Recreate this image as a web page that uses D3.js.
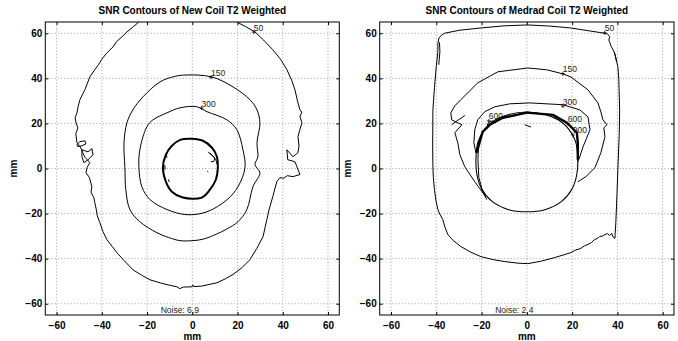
<!DOCTYPE html>
<html>
<head>
<meta charset="utf-8">
<script src="https://cdn.jsdelivr.net/npm/d3@7"></script>
<style>
  body { margin: 0; background: #fff; }
  svg { display: block; font-family: "Liberation Sans", Arial, Helvetica, sans-serif; }
</style>
</head>
<body>
<div id="chart"></div>
<script>
// axis setup (mm)
const tickValues = [-60, -40, -20, 0, 20, 40, 60];
const axisDomain = [-65, 65];

// ---- New coil (left) ----
const newTitle = 'SNR Contours of New Coil T2 Weighted';
const newNoise = 'Noise: 6.9';
const new50 = [[-23.6,65],[-26,63],[-28.9,60.6],[-31,58.5],[-33.5,56.3],[-35,54],[-37.8,51.3],[-40,48.5],[-41.5,46],[-43,44],
  [-45.3,40.7],[-46.5,37.5],[-47.5,35],[-48.5,33],[-49.7,30.5],[-50.5,27.5],[-51,24.7],[-51.8,22.5],[-51.4,20.3],[-50.6,18],
  [-51.5,15.5],[-51.2,13],[-51,11.4],[-49.5,9.5],[-48.4,7],[-47.5,5],[-46.5,4],[-45.3,2.6],[-46.5,0.5],[-47,-1.9],[-45.5,-4],
  [-44.4,-8.1],[-44.8,-10.5],[-43.5,-13],[-43.1,-15.2],[-42.5,-18],[-42,-21],[-40.9,-24],[-39.5,-28],[-37.8,-31.5],[-35.5,-34.5],
  [-33.4,-37.3],[-30,-41],[-26.3,-44.9],[-22.5,-47.3],[-18.7,-49.4],[-14,-50.8],[-10,-51.8],[-6.8,-52.5],[-5.5,-53.3],[-4,-52.6],
  [-0.2,-52.5],[0.2,-51.6],[0.5,-52.4],[4,-52.2],[10.9,-50.7],[14.5,-49],[18,-47],[22,-44],[25.5,-40.4],[28.5,-35.5],[31.3,-30.2],
  [32.2,-26],[33,-22.6],[34,-18],[35.6,-12.5],[36.5,-9],[37.4,-5.8],[38.7,-4.1],[40.5,-4.3],[42,-3.2],[44.5,-3.6],[47.6,-2.7],
  [45.4,3],[42.2,3.9],[41.8,8.3],[44.5,5.2],[46.7,7],[47.2,10],[46.7,14.1],[47.5,17],[48.5,20.3],[47.6,23],[48.4,25],[47.6,26],
  [46.5,30],[45.4,34.9],[44,39],[41.8,43.9],[39,48.5],[35.6,52.7],[31.5,57],[27.7,60.6],[23.5,63],[19.7,65]];
const new50Blobs = [
  [[-51,10.6],[-49.7,11.9],[-47.5,12.3],[-47,11],[-48.8,10.1],[-50.6,9.7],[-51,10.6]],
  [[-48.8,8.3],[-46.1,7.4],[-44.4,8.8],[-43.9,6.1],[-46.1,3.9],[-47.9,2.6],[-48.8,5.2],[-48.8,8.3]]
];
const new150 = [[-2.4,41.5],[8.7,40.6],[18,36.2],[25.5,30.5],[28.6,26],[29.9,20.3],[28.6,11.4],[29,5.2],[27.7,1.7],[29.9,-1.9],
  [26.8,-8.1],[24.1,-18.3],[20.2,-23.6],[15,-27],[10.9,-29],[5,-31.3],[0.3,-32],[-5.5,-32],[-10.5,-30.6],[-15.6,-28.5],
  [-23.2,-23.6],[-27.6,-18.2],[-29.4,-9.4],[-29.8,0.4],[-30.2,11.4],[-28.9,20.3],[-26.3,26],[-21.8,31.8],[-14.3,38.4],[-8,40.8]];
const new300 = [[2,27.4],[6.5,25.2],[15.3,21.6],[19.7,17.2],[22.4,8.3],[23.3,0.4],[20.2,-8.1],[15.3,-13.9],[6.5,-19.2],
  [-2.4,-20.5],[-11.2,-18.2],[-18.7,-13.8],[-22.3,-8.1],[-23.6,0.4],[-23.2,8.3],[-20.1,18.5],[-17.4,21.6],[-11.2,24.7],[-5.5,26.9]];
const newInner = [[-0.2,13.2],[4.7,12.3],[8.7,9.2],[10.9,5.2],[11.3,0.4],[10.4,-5],[7.8,-9.4],[4.2,-12.9],[-4.2,-12.9],
  [-9,-10.3],[-11.7,-5.8],[-13,0.4],[-11.7,6.1],[-9,10.1],[-5.1,12.8]];
const newBits = [
  [[7,7.3],[9.2,5.4],[10.4,3.9],[11,1.7]],
  [[7.8,6.9],[10,4.7],[9.5,3.1],[8.2,3]],
  [[-11.5,6.3],[-11.2,4.8]], [[-12.2,1.5],[-12,-0.5]], [[-10.6,-4.8],[-10.2,-6]],
  [[6.6,-1.2],[7.1,-1.6]]
];
const newLabels = [
  { text: '50', x: 27.2, y: 60.5 },
  { text: '150', x: 8.3, y: 40.5 },
  { text: '300', x: 4.1, y: 26.8 }
];

// ---- Medrad coil (right) ----
const medTitle = 'SNR Contours of Medrad Coil T2 Weighted';
const medNoise = 'Noise: 2.4';
const med50 = [[-36.4,60],[-30,61.3],[-20,62.4],[-10,63.3],[0.4,63.7],[10,63.2],[19,62.4],[28,61],[34.4,60],[35.5,59.8],[36.6,58.5],
  [36.2,57],[37.3,54.1],[38,52.8],[38.8,51.2],[39.3,49.1],[40.2,45.2],[40.6,40],[41,26],[40.8,15],[40.2,-0.5],[39.8,-12],[39.3,-24],
  [39,-29],[38.9,-31],[38,-30.3],[37.5,-28.8],[36.6,-29.7],[35.5,-28.9],[34.5,-29.3],[33.4,-30],[32.2,-30.1],[31.4,-30.9],[29.8,-31.6],
  [28.6,-32.8],[27,-33.7],[25.5,-34.3],[23.5,-35.6],[21.5,-36.2],[19.5,-37.3],[16,-38.4],[12.4,-39.5],[6,-41.2],[0.4,-42.2],[-4,-42],
  [-9.7,-41.3],[-15,-40.4],[-20.3,-39.1],[-25,-37],[-29.2,-34.6],[-32.5,-32],[-34.9,-29.3],[-36.2,-26],[-37.1,-22.7],[-38.5,-20.2],
  [-39.3,-18.2],[-40.2,-14],[-40.8,-9.4],[-41.3,-4],[-41.5,0.8],[-41.6,10],[-41.5,26],[-40.8,36],[-40,45.2],[-39.3,52],[-39.3,55.6],
  [-38.8,58],[-37.5,59.3],[-36.4,60]];
const med50Bits = [
  [[-38.6,56],[-38.4,52],[-38.7,48.5],[-38.9,46]],
  [[38.6,51.5],[39.2,49.5],[39.6,47.5]]
];
const med150 = [[-18.1,-12.6],[-23,-5.9],[-27.4,0.8],[-29.6,6.1],[-30.5,11.4],[-31.8,15.9],[-28.7,19.4],[-33.2,21.6],[-33.6,24.7],
  [-31.8,27.8],[-29.2,30.5],[-25.2,34.5],[-21.7,38],[-12.8,42.9],[0.4,44.6],[8.8,43.8],[15.9,42],[19.5,40.6],[27,34.9],[31.4,29.1],
  [32.7,25.1],[33.6,21.6],[35.4,19.4],[34,18.1],[34.5,14.1],[32.7,7],[30.1,0.4],[26.1,-3.6],[22.5,-5.9]];
const med150Bits = [
  [[-33.2,19.4],[-30.5,21.4],[-27.4,23.5]]
];
const med300 = [[-22.5,7],[-23.4,11.4],[-23,17.2],[-21.7,21.6],[-18.6,25.2],[-14.1,27.4],[-7.5,28.7],[1.3,29.1],[15.9,28.3],
  [23.4,26],[27,22.9],[27.9,17.2],[26.1,12.7],[24.8,9.6],[23.4,5.2],[22.5,3]];
const medCircle = [[0,25.1],[8,24],[14,21.5],[18.5,17.5],[21.5,12],[22.5,4],[22,-3],[20,-9],[15.5,-14.5],[8,-18.3],[0,-19.2],
  [-8,-18.3],[-15.5,-14.5],[-20,-9],[-22,-3],[-22.5,4],[-21.5,12],[-18.5,17.5],[-14,21.5],[-8,24]];
const medThick = [[-22.2,6.9],[-19.5,16.3],[-16.4,19.4],[-10.6,22.5],[0,24.8],[11.5,23.8],[17.7,20.3],[22.1,15.9],[22.5,11.4],[22.5,3.9]];
const medThickLeft = [[-21.3,12],[-21.6,4],[-21.2,-4],[-19.6,-10],[-17.7,-13.8]];
const medBits = [
  [[-0.9,19.4],[1.8,18.4]],
  [[-17.5,19.2],[-16.9,20.5],[-15,21.2]]
];
const medLabels = [
  { text: '50', x: 34.4, y: 60.2 },
  { text: '150', x: 15.9, y: 42.0 },
  { text: '300', x: 15.9, y: 27.7 },
  { text: '600', x: -16.8, y: 21.1 },
  { text: '600', x: 18.1, y: 19.9 },
  { text: '900', x: 20.3, y: 14.9 }
];

const width = 678, height = 341;
const plotTop = 22, plotBottom = 315;
const panels = [
  { title: newTitle, noise: newNoise, left: 45.3, right: 339.3,
    lines: [
      { pts: new50, w: 1 }, ...new50Blobs.map(p => ({ pts: p, w: 1 })),
      { pts: new150, w: 1, closed: true }, { pts: new300, w: 1, closed: true },
      { pts: newInner, w: 2, closed: true }, ...newBits.map(p => ({ pts: p, w: 1 }))
    ],
    labels: newLabels },
  { title: medTitle, noise: medNoise, left: 379.7, right: 674,
    lines: [
      { pts: med50, w: 1 }, ...med50Bits.map(p => ({ pts: p, w: 1 })),
      { pts: med150, w: 1 }, ...med150Bits.map(p => ({ pts: p, w: 1 })),
      { pts: med300, w: 1 }, { pts: medCircle, w: 1.1, closed: true },
      { pts: medThick, w: 2.4 }, { pts: medThickLeft, w: 1 },
      ...medBits.map(p => ({ pts: p, w: 1 }))
    ],
    labels: medLabels }
];

const svg = d3.select('#chart').append('svg').attr('width', width).attr('height', height);

panels.forEach(p => {
  const x = d3.scaleLinear().domain(axisDomain).range([p.left, p.right]);
  const y = d3.scaleLinear().domain(axisDomain).range([plotBottom, plotTop]);
  const g = svg.append('g');

  // dotted grid
  g.append('g').selectAll('line').data(tickValues).join('line')
    .attr('x1', d => x(d)).attr('x2', d => x(d)).attr('y1', plotTop).attr('y2', plotBottom)
    .attr('stroke', '#8a8a8a').attr('stroke-width', 0.8).attr('stroke-dasharray', '1,2.2');
  g.append('g').selectAll('line').data(tickValues).join('line')
    .attr('y1', d => y(d)).attr('y2', d => y(d)).attr('x1', p.left).attr('x2', p.right)
    .attr('stroke', '#8a8a8a').attr('stroke-width', 0.8).attr('stroke-dasharray', '1,2.2');

  // contours
  const line = d3.line().x(d => x(d[0])).y(d => y(d[1]));
  const lineClosed = d3.line().x(d => x(d[0])).y(d => y(d[1])).curve(d3.curveCatmullRomClosed);
  const clip = 'clip' + Math.round(p.left);
  svg.append('clipPath').attr('id', clip).append('rect')
    .attr('x', p.left).attr('y', plotTop).attr('width', p.right - p.left).attr('height', plotBottom - plotTop);
  const cg = g.append('g').attr('clip-path', `url(#${clip})`);
  p.lines.forEach(l => {
    cg.append('path').attr('d', l.closed ? lineClosed(l.pts) : line(l.pts))
      .attr('fill', 'none').attr('stroke', '#000').attr('stroke-width', l.w)
      .attr('stroke-linejoin', 'round');
  });

  // contour labels with + markers
  const lab = g.append('g').selectAll('g').data(p.labels).join('g')
    .attr('transform', d => `translate(${x(d.x)},${y(d.y)})`);
  lab.append('path').attr('d', 'M-2,0H2M0,-2V2').attr('stroke', '#000').attr('stroke-width', 0.8);
  lab.append('text').attr('x', 0).attr('y', -1.5).text(d => d.text)
    .attr('font-size', 8.5).attr('fill', '#222');

  // axes with inward ticks
  g.append('g').attr('transform', `translate(0,${plotBottom})`)
    .call(d3.axisBottom(x).tickValues(tickValues).tickSizeInner(-3).tickSizeOuter(0).tickPadding(6.5))
    .call(a => a.select('.domain').remove())
    .call(a => a.selectAll('text').attr('font-size', 10).attr('font-weight', 'bold').attr('fill', '#000')
      .text(d => d < 0 ? '\u2212' + Math.abs(d) : d));
  g.append('g').attr('transform', `translate(${p.left},0)`)
    .call(d3.axisLeft(y).tickValues(tickValues).tickSizeInner(-3).tickSizeOuter(0).tickPadding(3))
    .call(a => a.select('.domain').remove())
    .call(a => a.selectAll('text').attr('font-size', 10).attr('font-weight', 'bold').attr('fill', '#000')
      .text(d => d < 0 ? '\u2212' + Math.abs(d) : d));
  g.append('g').attr('transform', `translate(0,${plotTop})`)
    .call(d3.axisTop(x).tickValues(tickValues).tickSizeInner(-3).tickSizeOuter(0).tickFormat(''))
    .call(a => a.select('.domain').remove());
  g.append('g').attr('transform', `translate(${p.right},0)`)
    .call(d3.axisRight(y).tickValues(tickValues).tickSizeInner(-3).tickSizeOuter(0).tickFormat(''))
    .call(a => a.select('.domain').remove());
  g.selectAll('.tick line').attr('stroke', '#000');

  // box
  g.append('rect').attr('x', p.left).attr('y', plotTop).attr('width', p.right - p.left).attr('height', plotBottom - plotTop)
    .attr('fill', 'none').attr('stroke', '#000').attr('stroke-width', 1);

  // noise note
  g.append('text').attr('x', x(-14)).attr('y', y(-64.2)).text(p.noise)
    .attr('font-size', 8.5).attr('fill', '#222');

  // titles and axis labels
  const cx = (p.left + p.right) / 2;
  g.append('text').attr('x', cx).attr('y', 14.2).attr('text-anchor', 'middle')
    .attr('font-size', 10).attr('font-weight', 'bold').text(p.title);
  g.append('text').attr('x', cx).attr('y', 339.5).attr('text-anchor', 'middle')
    .attr('font-size', 10).attr('font-weight', 'bold').text('mm');
  g.append('text').attr('transform', `translate(${p.left - 28.5},${(plotTop + plotBottom) / 2}) rotate(-90)`)
    .attr('text-anchor', 'middle').attr('font-size', 10).attr('font-weight', 'bold').text('mm');
});
</script>
</body>
</html>
